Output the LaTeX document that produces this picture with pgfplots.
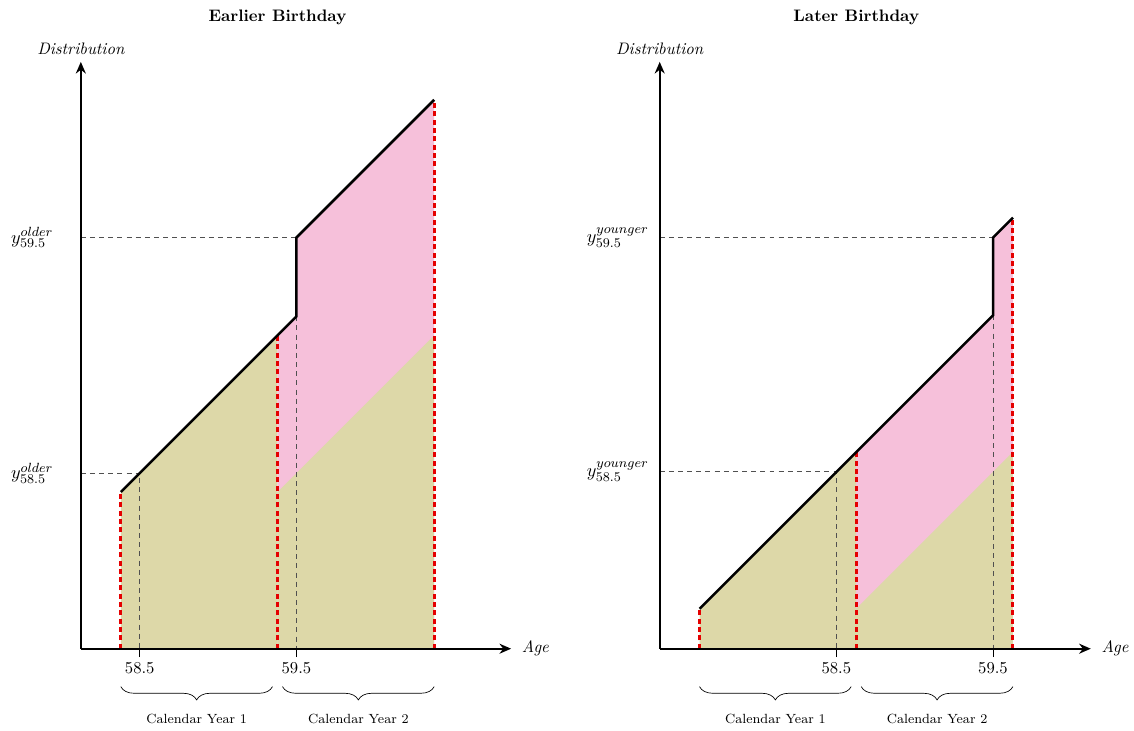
\documentclass[border=0pt]{standalone}
\usepackage{pgfplots}
\pgfplotsset{compat=1.18}
\usetikzlibrary{arrows.meta,decorations.pathreplacing}

\definecolor{olivefill}{RGB}{221,216,168}
\definecolor{pinkfill}{RGB}{246,192,218}
\definecolor{guide}{RGB}{80,80,80}

\pgfplotsset{
  bday/.style={
    x=94.2pt, y=94.2pt,
    ymin=0, ymax=3.745,
    axis lines=left,
    axis on top,
    clip=false,
    axis line style={line width=1.4pt, -{Stealth[length=7pt,width=6pt]}},
    xtick={58.5,59.5},
    xticklabels={58.5,59.5},
    xtick style={black, thin},
    tick align=outside,
    major tick length=5pt,
    ytick style={draw=none},
    yticklabel style={font=\fontsize{11}{13}\selectfont},
    title style={anchor=south, yshift=13pt, font=\bfseries},
  },
  redcut/.style={red!90!black, line width=1.8pt, dash pattern=on 3pt off 2pt},
  guideline/.style={guide, line width=0.6pt, dash pattern=on 3pt off 2.5pt},
  curve/.style={black, line width=1.5pt},
}

\begin{document}
\begin{tikzpicture}

% ---- earlier birthday ----
\begin{axis}[bday, name=L,
  xmin=58.124, xmax=60.87,
  ytick={1.121,2.624},
  yticklabels={$y^{older}_{58.5}$, $y^{older}_{59.5}$},
  yticklabel style={xshift=-8pt},
  title={Earlier Birthday},
  title style={at={(0.457,1)}},
]
\addplot[fill=pinkfill, draw=none] coordinates {(59.379,2)(59.5,2.121)(59.5,2.624)(60.379,3.503)} \closedcycle;
\addplot[fill=olivefill, draw=none] coordinates {(59.379,1)(60.379,2)} \closedcycle;
\addplot[fill=olivefill, draw=none] coordinates {(58.379,1)(59.379,2)} \closedcycle;

\addplot[guideline] coordinates {(58.124,1.121)(58.5,1.121)(58.5,0)};
\addplot[guideline] coordinates {(58.124,2.624)(59.5,2.624)};
\addplot[guideline] coordinates {(59.5,2.121)(59.5,0)};

\addplot[redcut] coordinates {(58.379,0)(58.379,1)};
\addplot[redcut] coordinates {(59.379,0)(59.379,2)};
\addplot[redcut] coordinates {(60.379,0)(60.379,3.503)};

\addplot[curve] coordinates {(58.379,1)(59.5,2.121)(59.5,2.624)(60.379,3.503)};

\node[anchor=south, font=\itshape] at (rel axis cs:0,1) [yshift=0.5pt] {Distribution};
\node[anchor=west, font=\itshape] at (rel axis cs:1,0) [xshift=3pt] {Age};

\draw[decorate, decoration={brace, mirror, amplitude=8pt}, thin]
  (axis cs:58.379,-0.242) -- (axis cs:59.347,-0.242)
  node[midway, below=13pt, font=\footnotesize] {Calendar Year 1};
\draw[decorate, decoration={brace, mirror, amplitude=8pt}, thin]
  (axis cs:59.411,-0.242) -- (axis cs:60.379,-0.242)
  node[midway, below=13pt, font=\footnotesize] {Calendar Year 2};
\end{axis}

% ---- later birthday ----
\begin{axis}[bday, at={(348pt,0)},
  xmin=57.373, xmax=60.124,
  ytick={1.128,2.624},
  yticklabels={$y^{younger}_{58.5}$, $y^{younger}_{59.5}$},
  yticklabel style={xshift=2pt},
  title={Later Birthday},
  title style={at={(0.456,1)}},
]
\addplot[fill=pinkfill, draw=none] coordinates {(58.627,1.255)(59.5,2.128)(59.5,2.624)(59.627,2.751)} \closedcycle;
\addplot[fill=olivefill, draw=none] coordinates {(58.627,0.255)(59.627,1.255)} \closedcycle;
\addplot[fill=olivefill, draw=none] coordinates {(57.627,0.255)(58.627,1.255)} \closedcycle;

\addplot[guideline] coordinates {(57.373,1.128)(58.5,1.128)(58.5,0)};
\addplot[guideline] coordinates {(57.373,2.624)(59.5,2.624)};
\addplot[guideline] coordinates {(59.5,2.128)(59.5,0)};

\addplot[redcut] coordinates {(57.627,0)(57.627,0.255)};
\addplot[redcut] coordinates {(58.627,0)(58.627,1.255)};
\addplot[redcut] coordinates {(59.627,0)(59.627,2.751)};

\addplot[curve] coordinates {(57.627,0.255)(59.5,2.128)(59.5,2.624)(59.627,2.751)};

\node[anchor=south, font=\itshape] at (rel axis cs:0,1) [yshift=0.5pt] {Distribution};
\node[anchor=west, font=\itshape] at (rel axis cs:1,0) [xshift=3pt] {Age};

\draw[decorate, decoration={brace, mirror, amplitude=8pt}, thin]
  (axis cs:57.627,-0.242) -- (axis cs:58.595,-0.242)
  node[midway, below=13pt, font=\footnotesize] {Calendar Year 1};
\draw[decorate, decoration={brace, mirror, amplitude=8pt}, thin]
  (axis cs:58.659,-0.242) -- (axis cs:59.627,-0.242)
  node[midway, below=13pt, font=\footnotesize] {Calendar Year 2};
\end{axis}

% white margins round the picture, as in the original
\path (L.south west) ++(-48.6pt,-49.2pt);
\path (L.north west) ++(0,37.2pt);

\end{tikzpicture}
\end{document}
